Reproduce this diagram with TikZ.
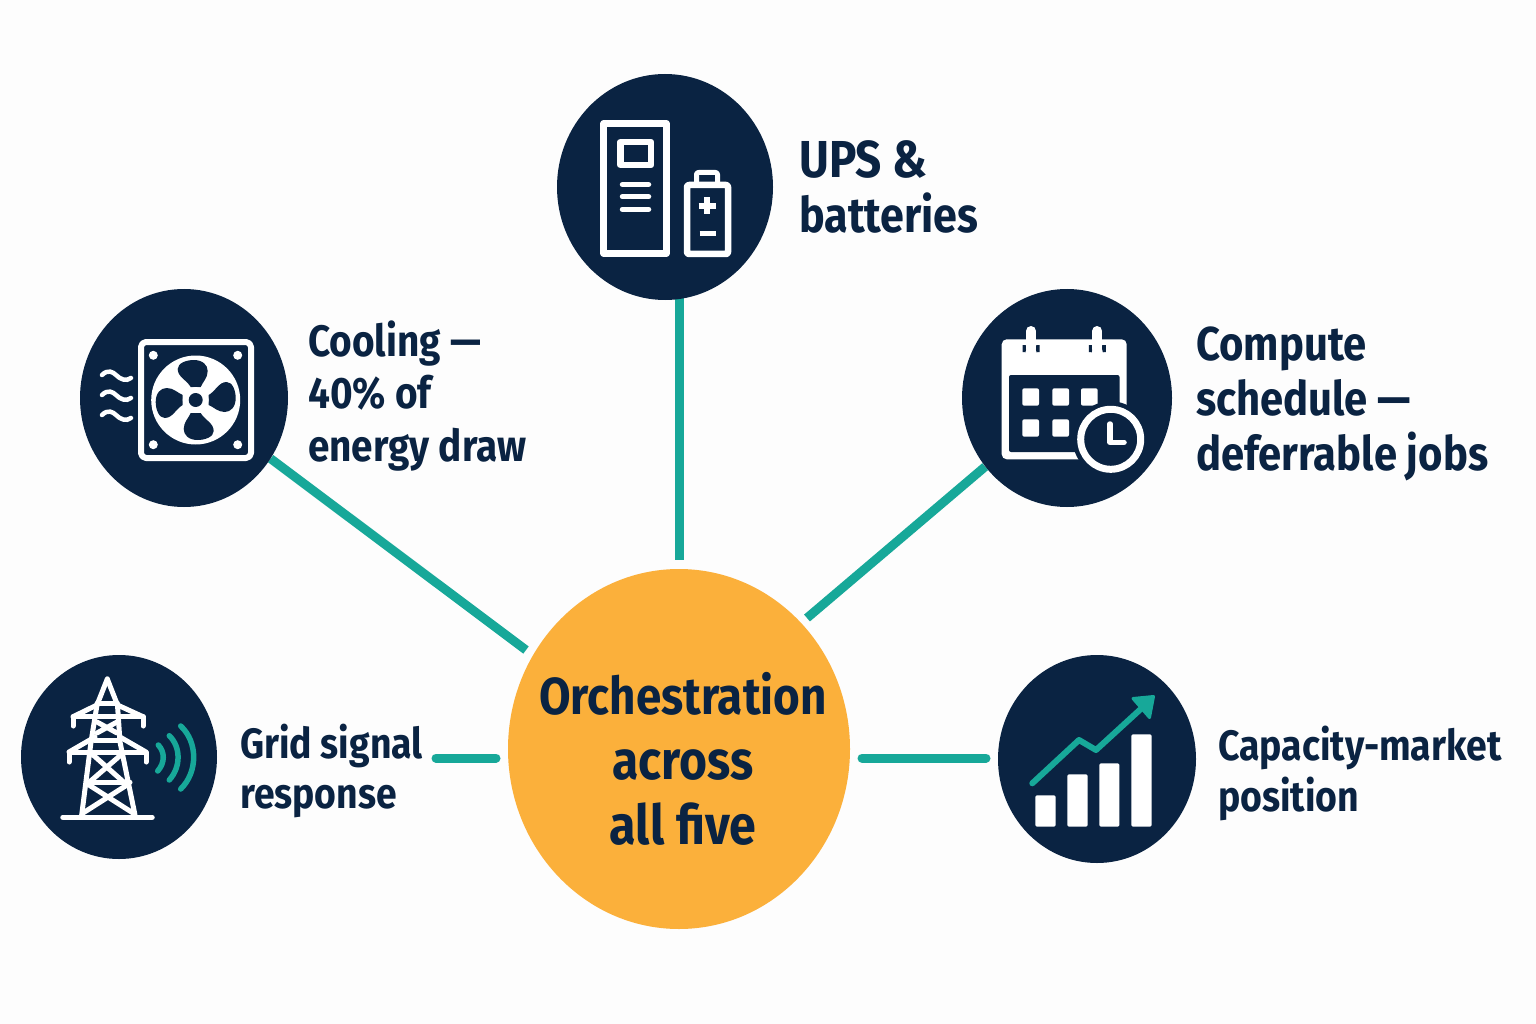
\documentclass[tikz,border=0pt]{standalone}
\usepackage{fontspec}
\setmainfont{Fira Sans}[FakeStretch=0.88]
\usetikzlibrary{shapes.geometric,backgrounds}
\definecolor{navy}{HTML}{0A2342}
\definecolor{amber}{HTML}{FBB03B}
\definecolor{teal2}{HTML}{17A899}
\definecolor{paper}{HTML}{FDFDFD}
\tikzset{
  disc/.style={ellipse,fill=navy,inner sep=0pt},
  hubdisc/.style={ellipse,fill=amber,inner sep=0pt},
  lbl/.style={anchor=base west,align=left,text=navy,inner sep=0pt},
  link/.style={line width=9pt,draw=teal2},
  linkr/.style={link,line cap=round},
  ico/.style={draw=white,line width=6.5pt,fill=none,line join=round},
  icor/.style={ico,line cap=round},
  tow/.style={draw=white,line width=5pt,line cap=round,line join=round},
  wave/.style={draw=teal2,line width=5.5pt,line cap=round}
}
\begin{document}
\begin{tikzpicture}[x=1pt,y=-1pt]
\useasboundingbox (0,0) rectangle (1536,1024);
% discs
\node[hubdisc,minimum width=342pt,minimum height=360pt] (hub) at (679,749) {};
\node[disc,minimum width=216pt,minimum height=226pt] (ups) at (665,187) {};
\node[disc,minimum width=208pt,minimum height=218pt] (cool) at (184,398) {};
\node[disc,minimum width=210pt,minimum height=218pt] (comp) at (1067,398) {};
\node[disc,minimum width=196pt,minimum height=204pt] (grid) at (119,757) {};
\node[disc,minimum width=198pt,minimum height=208pt] (mkt) at (1097,759) {};
% connectors
\coordinate (upsS) at (679,290);
\coordinate (hubU) at (679,560);
\coordinate (hubC) at (526,650);
\coordinate (hubP) at (807,618);
\coordinate (hubG) at (496,758);
\coordinate (hubM) at (862,758);
\coordinate (gridE) at (436,758);
\coordinate (mktE) at (986,758);
\begin{pgfonlayer}{background}
\fill[paper] (0,0) rectangle (1536,1024);
\draw[link] (upsS) -- (hubU);
\draw[link] (cool.-35) -- (hubC);
\draw[link] (comp.-140) -- (hubP);
\end{pgfonlayer}
\draw[linkr] (gridE) -- (hubG);
\draw[linkr] (hubM) -- (mktE);
% hub text
\node[font=\fontsize{52}{65}\selectfont\bfseries,text=navy,anchor=base,align=center,inner sep=0pt] (hubt) at (683,844) {Orchestration\\{\fontsize{54.5}{65}\selectfont across}\\{\fontsize{55}{65}\selectfont all f{}ive}};
% labels
\node[lbl,font=\fontsize{49}{55}\selectfont\bfseries] (t1) at (799,233) {{\fontsize{52}{55}\selectfont UPS \&}\\batteries};
\node[lbl,font=\fontsize{44}{52.5}\selectfont\bfseries] (t2) at (308,461) {Cooling —\\40\% of\\energy draw};
\node[lbl,font=\fontsize{47.5}{55}\selectfont\bfseries] (t3) at (1196,470) {Compute\\schedule —\\deferrable jobs};
\node[lbl,font=\fontsize{42.4}{50}\selectfont\bfseries] (t4) at (240,808) {Grid signal\\response};
\node[lbl,font=\fontsize{42.5}{51}\selectfont\bfseries] (t5) at (1218,811) {Capacity-market\\position};
% UPS icon
\draw[ico] (603.5,123.5) rectangle (666.5,253.5);
\draw[ico] (620.5,142) rectangle (651,165);
\foreach \yy in {184.5,196.7,209.3} \draw[icor,line width=5.5pt] (622.5,\yy) -- (648.5,\yy);
\draw[ico,rounded corners=2pt] (687,185) rectangle (728,254);
\draw[ico,line width=5pt,rounded corners=2pt] (696.5,185) -- (696.5,172.5) -- (717.5,172.5) -- (717.5,185);
\draw[ico,line width=5.5pt] (707,197.5) -- (707,214.5) (698.5,206) -- (715.5,206);
\draw[ico,line width=5.5pt] (699.5,233.7) -- (715.5,233.7);
% cooling icon
\draw[ico,line width=6pt,rounded corners=5pt] (141,342) rectangle (251,458);
\foreach \cx/\cy in {153.3/355.3,237.7/355.3,153.3/444.7,237.7/444.7} \fill[white] (\cx,\cy) circle (4.5pt);
\fill[white] (195.7,400) circle (44.5pt);
\foreach \ang in {0,90,180,270}
  \fill[navy,shift={(195.7,400)},rotate=\ang,x=1pt,y=-1pt] (-5,-13) .. controls (-9,-20) and (-18,-23) .. (-18,-31) .. controls (-18,-37) and (-9,-40) .. (-2,-40) .. controls (7,-40) and (12,-35) .. (12,-29) .. controls (12,-22) and (7,-18) .. (5,-13) -- cycle;
\fill[white] (195.7,400) circle (13pt);
\fill[navy] (195.7,400) circle (7pt);
\foreach \yy in {0,20,40}
  \draw[white,line width=4.5pt,line cap=round,shift={(0,\yy)}] (102,375) .. controls (108,369) and (113,372) .. (116,375) .. controls (120,379) and (126,382) .. (131,378);
% calendar icon
\fill[white,rounded corners=5pt] (1001.7,339.3) rectangle (1126.7,459.3);
\fill[navy,rounded corners=2pt] (1009,375) rectangle (1119.5,452);
\foreach \px in {1031,1097.3}{
  \draw[navy,line width=3pt] (\px-7,345) -- (\px-7,352) arc[start angle=180,end angle=360,radius=7] -- (\px+7,345);
  \draw[white,line width=10pt,line cap=round] (\px,331) -- (\px,349);
}
\foreach \gx/\gy in {1022.3/388.3,1052.3/388.3,1081/388.3,1022.3/419.3,1052.3/419.3}
  \fill[white,rounded corners=2pt] (\gx,\gy) rectangle +(16.7,17.4);
\fill[navy] (1110.7,439.3) circle (38pt);
\draw[white,line width=7pt] (1110.7,439.3) circle (30pt);
\draw[white,line width=5.5pt,line cap=round,line join=round] (1110,424) -- (1110,442.3) -- (1124,442.3);
% grid icon
\draw[tow] (107.3,679) -- (97,705) -- (91,742) -- (81.7,815);
\draw[tow] (107.3,679) -- (117.5,705) -- (120,742) -- (135,815);
\draw[tow] (97,703) -- (117.5,703);
\draw[tow] (73,726) -- (73,716.7) -- (143,716.7) -- (143,726);
\draw[tow] (73,716.7) -- (97,705) (143,716.7) -- (117.5,705);
\draw[tow] (69,762) -- (69,752) -- (146,752) -- (146,762);
\draw[tow] (69,752) -- (95,737) (146,752) -- (120,737);
\draw[tow] (94,740) -- (120,740);
\draw[tow] (97,722) -- (117,733) (117,722) -- (97,733);
\draw[tow] (92,754) -- (127,785) (122,754) -- (86,785);
\draw[tow] (87,782) -- (130,782);
\draw[tow] (89,785) -- (133,813) (127,785) -- (83,813);
\draw[white,line width=5.5pt,line cap=round] (63,817.3) -- (152,817.3);
\draw[wave] (158.3,745) .. controls (165,752) and (165,763) .. (157.7,771);
\draw[wave] (169.3,735.7) .. controls (181,747) and (181,767) .. (169.3,780);
\draw[wave] (180.7,726) .. controls (198,742) and (198,772) .. (180.7,789);
% market icon
\foreach \bl/\br/\bt in {1035.3/1055.7/795.3,1067.3/1087.7/774.3,1099.3/1119.3/763.3,1131.3/1151.7/734.3}
  \fill[white,rounded corners=1.5pt] (\bl,\bt) rectangle (\br,826.7);
\draw[teal2,line width=6pt,line cap=round,line join=round] (1032.3,783.3) -- (1079,740) -- (1096,750) -- (1143.3,706.7);
\fill[teal2,draw=teal2,line width=3pt,line join=round] (1153.5,696.5) -- (1133,698.5) -- (1149.5,717.5) -- cycle;
\end{tikzpicture}
\end{document}
